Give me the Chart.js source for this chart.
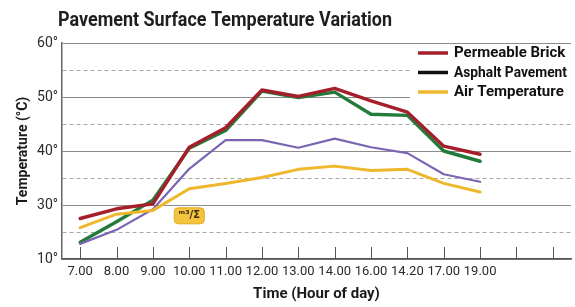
<!DOCTYPE html>
<html>
<head>
<meta charset="utf-8">
<script src="https://cdn.jsdelivr.net/npm/chart.js@4.4.1/dist/chart.umd.min.js"></script>
<style>
  html, body { margin: 0; padding: 0; background: #fff; }
</style>
</head>
<body>
<canvas id="myChart" width="575" height="307"></canvas>
<script>
// categories (last two are empty slots on the axis)
const hours = ['7.00', '8.00', '9.00', '10.00', '11.00', '12.00', '13.00', '14.00', '16.00', '14.20', '17.00', '19.00', '', ''];

// series values (°C)
const permeableBrick = [27.5, 29.3, 30.2, 40.7, 44.3, 51.3, 50.1, 51.6, 49.3, 47.2, 40.9, 39.4];
const asphaltPavement = [23.1, 26.9, 30.9, 40.5, 43.8, 51.1, 49.9, 50.9, 46.8, 46.6, 40.0, 38.1];
const purpleSeries = [22.8, 25.4, 29.2, 36.7, 42.0, 42.0, 40.6, 42.3, 40.7, 39.6, 35.7, 34.3];
const airTemperature = [25.8, 28.3, 29.0, 33.0, 34.0, 35.1, 36.6, 37.2, 36.4, 36.6, 34.0, 32.4];

// y tick labels (bottom line is labelled 10° in the original)
const yTickValues = [20, 25, 30, 35, 40, 45, 50, 55, 60];
const yTickLabels = ['10°', '', '30°', '', '40°', '', '50°', '', '60°'];

// legend
const legendLabels = ['Permeable Brick', 'Asphalt Pavement', 'Air Temperature'];
const legendColors = ['#a51f2b', '#111111', '#efb72f'];

// little yellow tag on the chart
const tagText = 'ᵐ³/Σ';
const tagAt = ['10.00', 28];

const FONT = 'Roboto, "Noto Sans", sans-serif';

const titlePlugin = {
  id: 'bigTitle',
  afterDraw(chart) {
    const ctx = chart.ctx;
    ctx.save();
    ctx.fillStyle = '#1e1e1e';
    ctx.font = 'bold 21px ' + FONT;
    ctx.textBaseline = 'alphabetic';
    ctx.fillText('Pavement Surface Temperature Variation', 58, 26, 334);
    ctx.restore();
  }
};

// short tick marks pointing up into the plot
const innerTicks = {
  id: 'innerTicks',
  afterDatasetsDraw(chart) {
    const ctx = chart.ctx;
    const x = chart.scales.x;
    const bottom = chart.chartArea.bottom;
    ctx.save();
    ctx.strokeStyle = '#555';
    ctx.lineWidth = 1;
    for (let i = 0; i < hours.length; i++) {
      const px = Math.round(x.getPixelForTick(i)) + 0.5;
      ctx.beginPath();
      ctx.moveTo(px, bottom);
      ctx.lineTo(px, bottom - 12);
      ctx.stroke();
    }
    ctx.restore();
  }
};

const tagPlugin = {
  id: 'tag',
  afterDatasetsDraw(chart) {
    const ctx = chart.ctx;
    const cx = chart.scales.x.getPixelForValue(hours.indexOf(tagAt[0]));
    const cy = chart.scales.y.getPixelForValue(tagAt[1]);
    ctx.save();
    ctx.fillStyle = '#f4c43e';
    ctx.strokeStyle = '#e2a91f';
    ctx.lineWidth = 1;
    ctx.beginPath();
    ctx.roundRect(cx - 15, cy - 8, 30, 16, 4);
    ctx.fill();
    ctx.stroke();
    ctx.fillStyle = '#3a2a10';
    ctx.font = 'bold 10px "DejaVu Sans", sans-serif';
    ctx.textAlign = 'center';
    ctx.textBaseline = 'middle';
    ctx.fillText(tagText, cx, cy);
    ctx.restore();
  }
};

const boxLegend = {
  id: 'boxLegend',
  afterDraw(chart) {
    const ctx = chart.ctx;
    const area = chart.chartArea;
    ctx.save();
    ctx.fillStyle = '#fff';
    ctx.fillRect(410, area.top + 2, area.right - 410 + 4, 57);
    ctx.font = 'bold 15px ' + FONT;
    ctx.textBaseline = 'middle';
    for (let i = 0; i < legendLabels.length; i++) {
      const y = 53 + i * 19.5;
      ctx.strokeStyle = legendColors[i];
      ctx.lineWidth = 3.5;
      ctx.beginPath();
      ctx.moveTo(418, y);
      ctx.lineTo(448, y);
      ctx.stroke();
      ctx.fillStyle = '#111';
      ctx.fillText(legendLabels[i], 454, y + 0.5, 113);
    }
    ctx.restore();
  }
};

function line(label, data, color, width) {
  return {
    label: label,
    data: data,
    borderColor: color,
    backgroundColor: color,
    borderWidth: width,
    pointRadius: 0,
    tension: 0,
    borderJoinStyle: 'round',
    borderCapStyle: 'round'
  };
}

const data = {
  labels: hours,
  datasets: [
    line('Air Temperature', airTemperature, '#eeb72c', 3),
    line('Purple', purpleSeries, '#7a65b3', 2.2),
    line('Permeable Brick', permeableBrick, '#a51f2b', 3.4),
    line('Asphalt Pavement', asphaltPavement, '#247a3a', 3.4)
  ]
};

const config = {
  type: 'line',
  data: data,
  options: {
    responsive: false,
    animation: false,
    layout: { padding: { top: 43, left: 15, right: 4, bottom: 0 } },
    plugins: {
      legend: { display: false },
      tooltip: { enabled: false },
      title: { display: false }
    },
    scales: {
      x: {
        offset: true,
        grid: { display: false, drawTicks: false },
        border: { display: true, color: '#555', width: 1.5 },
        ticks: {
          color: '#2a2a2a',
          font: { family: FONT, size: 13 },
          padding: 5,
          maxRotation: 0,
          autoSkip: false
        },
        title: {
          display: true,
          text: 'Time (Hour of day)',
          color: '#1a1a1a',
          font: { family: FONT, size: 15, weight: 'bold' },
          padding: { top: 9 }
        },
        afterFit: s => { s.height = 48; }
      },
      y: {
        min: 20,
        max: 60,
        afterBuildTicks: s => { s.ticks = yTickValues.map(v => ({ value: v })); },
        grid: {
          drawTicks: false,
          color: ctx => (ctx.tick && ctx.tick.value % 10 ? '#a8a8a8' : '#8c8c8c'),
          lineWidth: 1
        },
        border: {
          display: true,
          color: '#666',
          width: 1.5,
          dash: ctx => (ctx.tick && ctx.tick.value % 10 ? [4, 3] : [])
        },
        ticks: {
          color: '#2a2a2a',
          font: { family: FONT, size: 14 },
          padding: 4,
          callback: (v) => yTickLabels[yTickValues.indexOf(v)]
        },
        title: {
          display: true,
          text: 'Temperature (°C)',
          color: '#1a1a1a',
          font: { family: FONT, size: 14, weight: 'bold' },
          padding: { top: 0, bottom: 2 }
        },
        afterFit: s => { s.width = 47; }
      }
    }
  },
  plugins: [innerTicks, tagPlugin, boxLegend, titlePlugin]
};

new Chart(document.getElementById('myChart'), config);
</script>
</body>
</html>
